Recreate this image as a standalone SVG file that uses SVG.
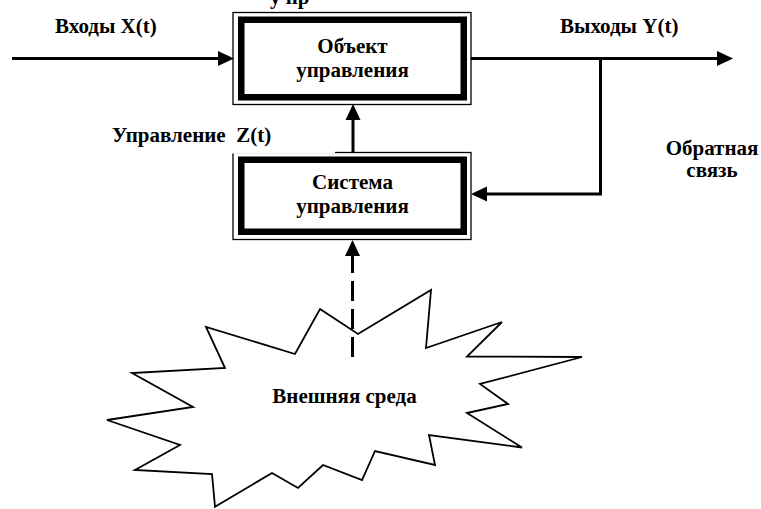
<svg xmlns="http://www.w3.org/2000/svg" width="761" height="509" viewBox="0 0 761 509">
<style>
text{font-family:'Liberation Serif','Times New Roman',serif;font-weight:700;font-size:21px;fill:#000}
.mid{text-anchor:middle}
.thin{fill:none;stroke:#000;stroke-width:1.3}
.thick{fill:#fff;stroke:#000;stroke-width:6.5}
.line{fill:none;stroke:#000;stroke-width:3}
.dash{fill:none;stroke:#000;stroke-width:3;stroke-dasharray:20 8}
.star{fill:#fff;stroke:#000;stroke-width:1.8;stroke-linejoin:miter}
</style>
<defs>
<marker id="arr" markerUnits="userSpaceOnUse" markerWidth="16" markerHeight="15" refX="0" refY="7.5" orient="auto" overflow="visible">
<path d="M0,0 L16,7.5 L0,15 Z" fill="#000"/>
</marker>
</defs>
<rect width="761" height="509" fill="#fff"/>
<text x="270" y="4">у пр</text>
<g id="env">
<polygon class="star" points="320,309 358,334 431,290 426,348 502,322 467,356.5 582,357 480,384 508,404 467,413 522,447.5 429,435 435,465 375,451 362,480 323,465 298,488 272,473 215,506.7 212,474 135,470 180,445 107,420 193,407 132,373 225,368 206,327 295,354"/>
<text class="mid" x="344.5" y="403">Внешняя среда</text>
</g>
<g id="object">
<rect class="thin" x="233" y="12.5" width="238" height="92"/>
<rect class="thick" x="241.25" y="19.75" width="222.5" height="77.5"/>
<text class="mid" x="352.5" y="53">Объект</text>
<text class="mid" x="352.5" y="77">управления</text>
</g>
<g id="control">
<rect class="thin" x="233" y="152.5" width="238" height="87"/>
<rect x="100" y="118" width="235" height="35.5" fill="#fff"/>
<rect class="thick" x="241.25" y="159.75" width="222.5" height="72"/>
<text class="mid" x="352.5" y="189">Система</text>
<text class="mid" x="352.5" y="213">управления</text>
</g>
<g id="labels">
<text x="55" y="33">Входы X(t)</text>
<text x="560" y="33">Выходы Y(t)</text>
<text x="112" y="142" xml:space="preserve">Управление  Z(t)</text>
<text class="mid" x="712" y="155">Обратная</text>
<text class="mid" x="712" y="177">связь</text>
</g>
<g id="connectors">
<path class="line" d="M12,58.5 H218" marker-end="url(#arr)"/>
<path class="line" d="M471,58.5 H717" marker-end="url(#arr)"/>
<path class="line" d="M600.5,58.5 V194 H487" marker-end="url(#arr)"/>
<path class="line" d="M353,152.5 V120" marker-end="url(#arr)"/>
<path class="dash" d="M352.5,357 V256" marker-end="url(#arr)"/>
</g>
</svg>
